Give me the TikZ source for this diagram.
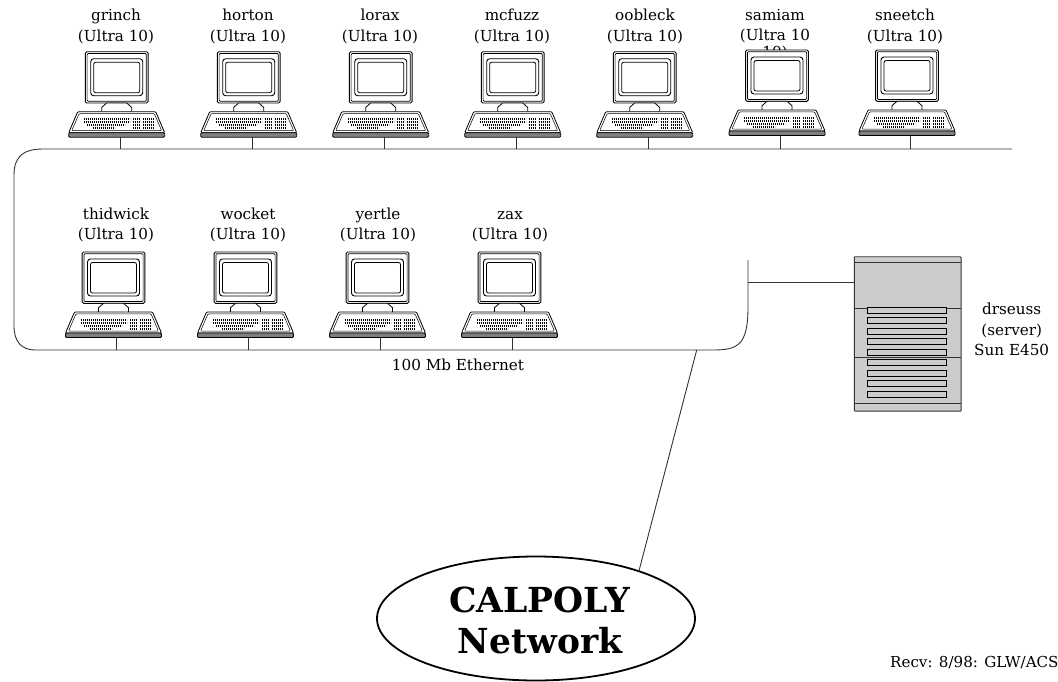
\documentclass[tikz,border=0pt]{standalone}
\usepackage{fontspec}
\setmainfont{DejaVu Serif}
\usetikzlibrary{shapes.geometric}

\definecolor{servergray}{gray}{0.8}
\definecolor{wiregray}{gray}{0.2}

\tikzset{
  hostlabel/.style={align=center, inner sep=0pt, font=\fontsize{15.2}{20.3}\selectfont},
  wire/.style={wiregray, line width=0.9pt},
  keyrow/.style={black, line width=2pt, dash pattern=on 1.2pt off 0.8pt},
  slot/.style={draw=black, fill=servergray, line width=0.8pt},
  workstation/.pic={
    % monitor
    \draw[black, line width=0.9pt, fill=white, rounded corners=1.5pt] (-31.4,0) rectangle (31.4,51.3);
    \draw[black, line width=0.7pt, rounded corners=1pt] (-29.6,1.8) rectangle (29.6,49.5);
    \draw[black, line width=0.9pt, rounded corners=3pt] (-26,7) rectangle (26,44);
    \draw[black, line width=0.8pt, rounded corners=2pt] (-23,10.5) rectangle (23,41);
    % stand
    \draw[black, line width=0.8pt, fill=white] (-15,60) -- (-15,55.7) -- (-10,51.3) -- (10,51.3) -- (15,55.7) -- (15,60);
    % keyboard
    \draw[black, line width=0.8pt, fill=white, rounded corners=1pt] (-39,60) -- (39,60) -- (48,81) -- (-48,81) -- cycle;
    \draw[black, line width=0.5pt, rounded corners=1pt] (-37.5,61.8) -- (37.5,61.8) -- (45,79) -- (-45,79) -- cycle;
    \draw[black, line width=0.8pt, fill=gray, rounded corners=1pt] (-48,81) rectangle (48,85.5);
    \draw[keyrow] (-33,67.5) -- (13,67.5);
    \draw[keyrow] (-33,70.5) -- (13,70.5);
    \draw[keyrow] (-30,73.5) -- (8,73.5);
    \draw[keyrow] (-24,76.5) -- (-2,76.5);
    \foreach \rowy in {67.5,70.5,73.5,76.5} {
      \draw[keyrow] (16,\rowy) -- (23,\rowy);
      \draw[keyrow] (26,\rowy) -- (37,\rowy);
    }
    \coordinate (-kb) at (3.3,85.5);
  }
}

\begin{document}
\begin{tikzpicture}[x=1pt, y=-1pt]
\useasboundingbox (0,0) rectangle (1058,681);

% host names
\foreach \hostname/\x/\y in {grinch/116/27, horton/248/27, lorax/380/27, mcfuzz/512/27, oobleck/645/27, sneetch/905/27, thidwick/116/225.5, wocket/248/225.5, yertle/378/225.5, zax/510/225.5} {
  \node[hostlabel] (\hostname-label) at (\x,\y) {\strut\hostname\\\strut(Ultra 10)};
}
\node[hostlabel, anchor=north] (samiam-label) at (775,8.7) {samiam\\(Ultra 10\\[-3.2pt]10)};

% ethernet
\coordinate (busTop) at (1012,149);
\coordinate (busBottom) at (748,350);
\coordinate (busEnd) at (748,260);
\coordinate (serverTap) at (748,282);
\coordinate (netTap) at (696.7,350);
\draw[wire] (busTop) -- (43,149) .. controls (25,149) and (14,155) .. (14,175) -- (14,326) .. controls (14,342) and (22,350) .. (35,350) -- (713,350) .. controls (738,350) and (748,345) .. (748,307) -- (busEnd);

% workstations
\foreach \hostname/\x/\y/\bus in {grinch/116.7/51.7/busTop, horton/248.7/51.7/busTop, lorax/380.7/51.7/busTop, mcfuzz/512.7/51.7/busTop, oobleck/644.7/51.7/busTop, samiam/777/50/busTop, sneetch/907/50/busTop, thidwick/113.5/252/busBottom, wocket/245.5/252/busBottom, yertle/377.5/252/busBottom, zax/509.5/252/busBottom} {
  \pic (\hostname) at (\x,\y) {workstation};
  \draw[wire] (\hostname-kb) -- (\hostname-kb |- \bus);
}

\node[hostlabel] (ethernet-label) at (458,366.7) {\strut 100 Mb Ethernet};

% server
\node[draw=wiregray, fill=servergray, line width=0.9pt, minimum width=106.7pt, minimum height=154.3pt, inner sep=0pt, rounded corners=0.7pt] (drseuss) at (907.7,333.9) {};
\draw[wiregray, line width=0.9pt] (854.3,262) -- (961,262);
\draw[wiregray, line width=0.9pt] (854.3,308) -- (961,308);
\draw[wiregray, line width=1.1pt] (854.3,357.7) -- (961,357.7);
\draw[wiregray, line width=1.1pt] (854.3,403.3) -- (961,403.3);
\foreach \sloty in {307.3,317.7,328.3,338.7,349.3,359.7,370,380.7,391.3} {
  \draw[slot] (867.3,\sloty) rectangle (946.7,\sloty+6);
}
\draw[wire] (serverTap) -- (serverTap -| drseuss.west);
\node[hostlabel] (drseuss-label) at (1011.7,331.2) {\strut drseuss\\\strut(server)\\\strut Sun E450};

% campus network
\node[draw=black, fill=white, ellipse, line width=1.8pt, minimum width=318pt, minimum height=124pt, inner sep=0pt] (calpoly) at (536,618.5) {};
\node[align=center, inner sep=0pt, font=\fontsize{34.5}{41}\selectfont\bfseries] (calpoly-label) at (540,620.5) {CALPOLY\\Network};
\draw[wire] (netTap) -- (calpoly.25);

\node[anchor=west, inner sep=0pt, font=\fontsize{15.1}{16}\selectfont] (recv-label) at (890,662.5) {Recv: 8/98: GLW/ACS};

\end{tikzpicture}
\end{document}
